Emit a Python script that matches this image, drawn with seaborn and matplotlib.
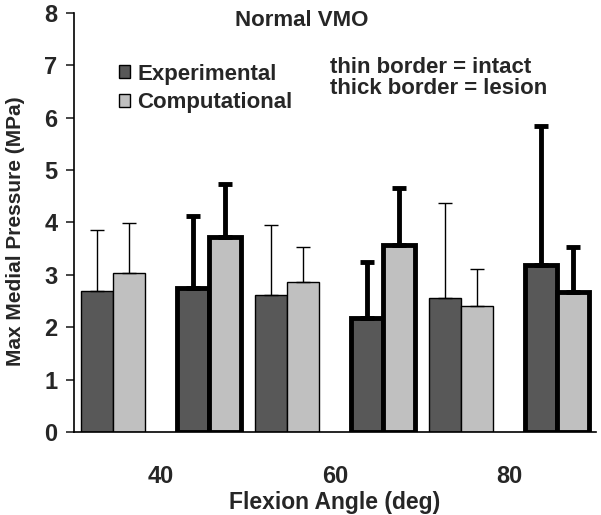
import matplotlib
matplotlib.use("Agg")
import matplotlib.pyplot as plt
from matplotlib.patches import Patch
import pandas as pd
import seaborn as sns

# values (MPa)
angles = ["40", "60", "80"]
exp_intact = [2.69, 2.61, 2.56]
exp_intact_sd = [1.16, 1.34, 1.81]
comp_intact = [3.03, 2.86, 2.40]
comp_intact_sd = [0.96, 0.67, 0.71]
exp_lesion = [2.75, 2.18, 3.19]
exp_lesion_sd = [1.37, 1.06, 2.65]
comp_lesion = [3.72, 3.57, 2.67]
comp_lesion_sd = [1.01, 1.09, 0.86]

series = {
    "Exp intact": (exp_intact, exp_intact_sd),
    "Comp intact": (comp_intact, comp_intact_sd),
    "Exp lesion": (exp_lesion, exp_lesion_sd),
    "Comp lesion": (comp_lesion, comp_lesion_sd),
}
rows = []
for name, (vals, sds) in series.items():
    for a, v, s in zip(angles, vals, sds):
        rows.append({"angle": a, "group": name, "value": v, "sd": s})
df = pd.DataFrame(rows)

dark = "#585858"
light = "#c0c0c0"
# empty "gap" level leaves a space between intact and lesion pairs
hue_order = ["Exp intact", "Comp intact", "gap", "Exp lesion", "Comp lesion"]
palette = {"Exp intact": dark, "Comp intact": light, "gap": "white",
           "Exp lesion": dark, "Comp lesion": light}

sns.set_style("white")
plt.rcParams["font.family"] = ["Liberation Sans", "DejaVu Sans"]
plt.rcParams["font.weight"] = "bold"

fig = plt.figure(figsize=(6.01, 5.15), dpi=100)
ax = fig.add_axes([0.123, 0.161, 0.869, 0.814])

sns.barplot(data=df, x="angle", y="value", hue="group", hue_order=hue_order,
            order=angles, palette=palette, errorbar=None, width=0.92,
            gap=0, saturation=1, legend=False, ax=ax)

# one container per hue level (the gap one is empty)
for cont, label in zip(ax.containers, hue_order):
    if label not in series:
        continue
    thick = "lesion" in label
    lw = 3.5 if thick else 1.0
    sds = series[label][1]
    for bar, s in zip(cont, sds):
        bar.set_edgecolor("black")
        bar.set_linewidth(lw)
        bar.set_joinstyle("miter")
        x = bar.get_x() + bar.get_width() / 2
        h = bar.get_height()
        ax.errorbar(x, h, yerr=[[0], [s]], fmt="none", ecolor="black",
                    elinewidth=lw, capsize=5, capthick=lw, zorder=1)

ax.set_xlim(-0.5, 2.5)
ax.set_ylim(0, 8)
ax.set_yticks(range(0, 9))
ax.set_xticks([0.5, 1.5, 2.5], minor=True)
ax.tick_params(axis="x", which="major", length=0, labelsize=17, pad=24)
ax.tick_params(axis="x", which="minor", direction="in", length=5, width=1)
ax.tick_params(axis="y", direction="out", length=6, width=1.2, left=True,
               labelsize=17, pad=6)
for lab in ax.get_xticklabels() + ax.get_yticklabels():
    lab.set_fontweight("bold")

sns.despine(ax=ax)
for sp in ("left", "bottom"):
    ax.spines[sp].set_color("black")
    ax.spines[sp].set_linewidth(1.2)

ax.set_xlabel("Flexion Angle (deg)", fontsize=16.5, fontweight="bold", labelpad=2)
ax.set_ylabel("Max Medial Pressure (MPa)", fontsize=15, fontweight="bold")
ax.yaxis.set_label_coords(-0.094, 0.48)

handles = [Patch(facecolor=dark, edgecolor="black", lw=1, label="Experimental"),
           Patch(facecolor=light, edgecolor="black", lw=1, label="Computational")]
ax.legend(handles=handles, loc="upper left", bbox_to_anchor=(0.07, 0.9),
          frameon=False, fontsize=16, handlelength=0.5, handleheight=0.5,
          handletextpad=0.3, labelspacing=0.35, borderaxespad=0)

fig.text(302 / 601, 1 - 20 / 515, "Normal VMO", ha="center", va="center",
         fontsize=16, fontweight="bold")
fig.text(330 / 601, 1 - 78 / 515, "thin border = intact\nthick border = lesion",
         ha="left", va="center", fontsize=16, fontweight="bold",
         linespacing=1.05)

fig.savefig("out.png", dpi=100)
